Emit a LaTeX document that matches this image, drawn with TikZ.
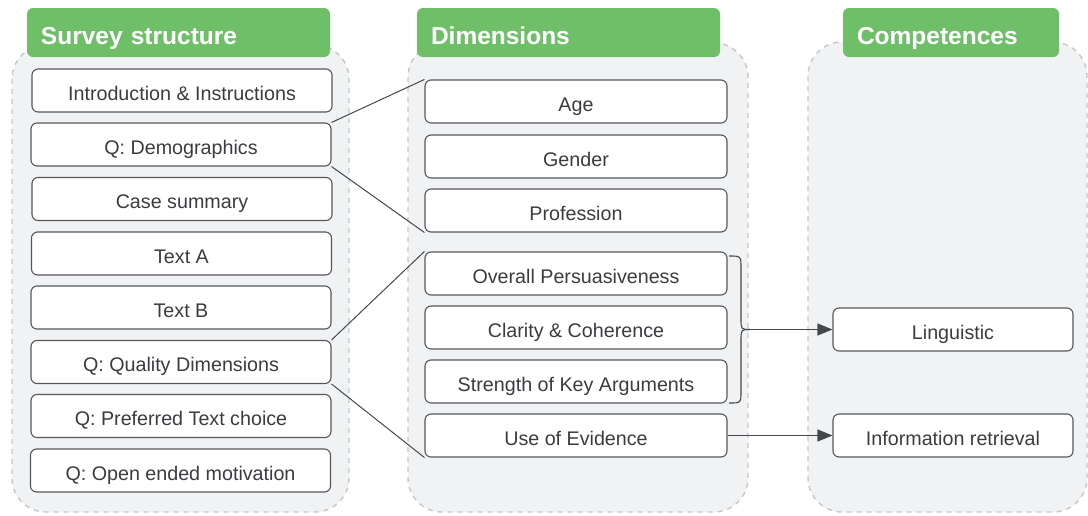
\documentclass[tikz,border=0pt]{standalone}
\usepackage{fontspec}
\setmainfont{Liberation Sans}
\usetikzlibrary{arrows.meta}
\definecolor{hdrgreen}{HTML}{6FBF69}
\definecolor{panelfill}{HTML}{F1F2F4}
\definecolor{paneldash}{HTML}{C6C7CA}
\definecolor{boxline}{HTML}{55575B}
\definecolor{txt}{HTML}{3A3C40}
\definecolor{conn}{HTML}{45474B}
\tikzset{
  panel/.style={fill=panelfill, draw=paneldash, line width=1.4pt, dash pattern=on 5pt off 5pt, rounded corners=34pt},
  header/.style={fill=hdrgreen, draw=none, rounded corners=6pt, minimum height=49pt, inner xsep=14pt, inner ysep=0pt,
    text=white, font=\fontsize{24.5}{28}\selectfont\bfseries, align=left, text height=23pt, text depth=0pt},
  itembox/.style={fill=white, draw=boxline, line width=1.1pt, rounded corners=6pt, minimum height=43pt, inner sep=0pt,
    text=txt, font=\fontsize{19.7}{22}\selectfont, text height=19pt, text depth=0pt},
  lbox/.style={itembox, minimum width=300pt},
  mbox/.style={itembox, minimum width=302pt},
  rbox/.style={itembox, minimum width=240pt},
  link/.style={draw=conn, line width=1pt},
  arr/.style={draw=conn, line width=1.2pt, -{Triangle[length=15pt,width=12pt]}}
}
\begin{document}
\begin{tikzpicture}[x=1pt,y=-1pt]
\useasboundingbox (0,0) rectangle (1088,515);
% panels
\path[panel] (12,45) rectangle (349,512);
\path[panel] (408,43) rectangle (748,512);
\path[panel] (808,42) rectangle (1087,512);
% headers
\node[header, text width=275pt] (h1) at (178.5,32.5) {Survey structure};
\node[header, text width=275pt] (h2) at (568.5,32.5) {Dimensions};
\node[header, text width=188pt] (h3) at (951,32.5) {Competences};
% left column
\node[lbox] (intro) at (182,90.5) {Introduction \& Instructions};
\node[lbox] (demo) at (181,144.5) {Q: Demographics};
\node[lbox] (case) at (182,199) {Case summary};
\node[lbox] (ta) at (181.5,253.5) {Text A};
\node[lbox] (tb) at (181,307.5) {Text B};
\node[lbox] (qual) at (181,362) {Q: Quality Dimensions};
\node[lbox] (pref) at (181,416) {Q: Preferred Text choice};
\node[lbox] (open) at (180.5,470.5) {Q: Open ended motivation};
% middle column
\node[mbox] (age) at (576,101.5) {Age};
\node[mbox] (gender) at (576,156.5) {Gender};
\node[mbox] (prof) at (576,210.5) {Profession};
\node[mbox] (overall) at (576,273.5) {Overall Persuasiveness};
\node[mbox] (clarity) at (576,327.5) {Clarity \& Coherence};
\node[mbox] (strength) at (576,381.5) {Strength of Key Arguments};
\node[mbox] (evid) at (576,435.5) {Use of Evidence};
% right column
\node[rbox] (ling) at (953,329.5) {Linguistic};
\node[rbox] (info) at (953,435.5) {Information retrieval};
% links
\draw[link] (demo.north east) -- (age.north west);
\draw[link] (demo.south east) -- (prof.south west);
\draw[link] (qual.north east) -- (overall.north west);
\draw[link] (qual.south east) -- (evid.south west);
% brace
\coordinate (tip) at (750,329.5);
\draw[link, line width=1.1pt] (729,256) .. controls (741,256) .. (741,268) -- (741,318) .. controls (741,329.5) .. (tip);
\draw[link, line width=1.1pt] (tip) .. controls (741,329.5) .. (741,341) -- (741,391) .. controls (741,403) .. (729,403);
% arrows
\draw[arr] (tip) -- (ling.west);
\draw[arr] (evid.east) -- (info.west);
\end{tikzpicture}
\end{document}
